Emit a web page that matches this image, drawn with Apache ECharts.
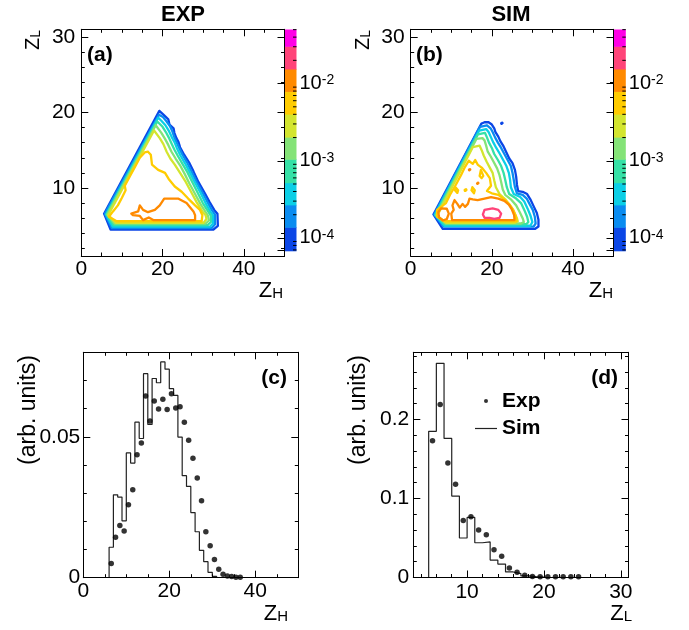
<!DOCTYPE html>
<html><head><meta charset="utf-8">
<script src="https://cdn.jsdelivr.net/npm/echarts@6/dist/echarts.min.js"></script>
<style>html,body{margin:0;padding:0;background:#fff}#c{width:689px;height:630px}</style>
</head><body><div id="c"></div>
<script>
// ================= DATA =================
// (c) Z_H distributions
const zhSimEdges = [6,7,8,9,10,11,12,13,14,15,16,17,18,19,20,21,22,23,24,25,26,27,28,29,30,31];
const zhSim = [0.0108,0.0294,0.0286,0.0202,0.0443,0.0407,0.0552,0.0494,0.0724,0.0544,0.0707,0.0692,0.0766,0.0740,0.0671,0.0647,0.0499,0.0362,0.0324,0.0231,0.0163,0.0097,0.0057,0.0019,0.0005];
const zhExpX = [6.5,7.5,8.5,9.5,10.5,11.5,12.5,13.5,14.5,15.5,16.5,17.5,18.5,19.5,20.5,21.5,22.5,23.5,24.5,25.5,26.5,27.5,28.5,29.5,30.5,31.5,32.5,33.5,34.5,35.5,36.5];
const zhExp = [0.0050,0.0144,0.0185,0.0166,0.0259,0.0312,0.0436,0.0478,0.0645,0.0556,0.0627,0.0599,0.0633,0.0597,0.0653,0.0602,0.0607,0.0552,0.0488,0.0424,0.0354,0.0273,0.0163,0.0113,0.0065,0.0030,0.0012,0.0006,0.0004,0.0002,0.0002];
// (d) Z_L distributions
const zlSimEdges = [5,6,7,8,9,10,11,12,13,14,15,16,17,18,19,20];
const zlSim = [0.185,0.271,0.176,0.103,0.050,0.076,0.044,0.045,0.022,0.017,0.007,0.005,0.002,0.001,0.0005];
const zlExpX = [5.5,6.5,7.5,8.5,9.5,10.5,11.5,12.5,13.5,14.5,15.5,16.5,17.5,18.5,19.5,20.5,21.5,22.5,23.5,24.5];
const zlExp = [0.173,0.219,0.145,0.118,0.072,0.077,0.060,0.054,0.035,0.027,0.012,0.0068,0.003,0.0014,0.0008,0.0008,0.0008,0.0008,0.0008,0.0008];

// colour scale (log z) band edges
const paletteEdges = [6.84e-5,1.38e-4,2.69e-4,5.22e-4,1.05e-3,2.03e-3,4.04e-3,7.94e-3,1.55e-2,3.05e-2,5.02e-2];

// (a) EXP contours, [Z_H, Z_L], outer -> inner level
const expL1 = [[19.2,20.2],[5.6,6.6],[7.2,4.5],[32.5,4.5],[33.6,5.0],[33.5,6.6],[32.7,7.1],[31.5,8.2],[30.3,9.4],[28.8,10.8],[27.6,12.2],[26.5,13.4],[25.3,14.4],[24.3,15.4],[23.9,16.1],[23.4,16.6],[22.9,17.3],[22.7,17.9],[21.7,18.4],[21.4,19.1],[20.4,19.6],[19.2,20.2]];
const expL2 = [[19.1,19.7],[5.8,6.6],[7.5,4.7],[32.1,4.7],[32.9,5.2],[32.9,6.5],[32.2,7.0],[31.0,8.2],[29.8,9.4],[28.4,10.8],[27.1,12.2],[26.0,13.4],[24.9,14.4],[24.0,15.4],[23.4,16.1],[22.9,16.7],[22.4,17.5],[21.8,18.2],[21.0,18.8],[20.1,19.4],[19.1,19.7]];
const expL3 = [[18.9,19.3],[6.1,6.5],[7.7,4.9],[31.7,4.9],[32.4,5.3],[32.4,6.4],[31.7,6.9],[30.5,8.1],[29.3,9.4],[27.9,10.8],[26.6,12.2],[25.5,13.3],[24.4,14.3],[23.5,15.3],[22.9,16.1],[22.2,16.8],[21.5,17.6],[20.7,18.3],[19.7,18.9],[18.9,19.3]];
const expL4 = [[18.7,18.8],[6.2,6.5],[8.0,5.1],[31.1,5.1],[31.9,5.5],[31.9,6.3],[31.2,6.9],[29.9,8.0],[28.7,9.3],[27.3,10.8],[26.1,12.1],[24.9,13.2],[23.8,14.2],[22.9,15.1],[22.2,15.9],[21.5,16.7],[20.8,17.4],[20.0,18.1],[18.7,18.8]];
const expL5 = [[18.3,18.3],[6.4,6.5],[8.2,5.3],[30.6,5.3],[31.4,5.7],[31.2,6.3],[30.6,6.8],[29.3,7.9],[28.0,9.2],[26.6,10.6],[25.4,11.9],[24.3,13.0],[23.2,13.9],[22.2,14.8],[21.4,15.7],[20.6,16.5],[19.7,17.3],[18.3,18.3]];
const expL6 = [[17.9,17.6],[6.6,6.4],[8.5,5.4],[30.1,5.4],[30.8,5.9],[30.6,6.4],[29.8,6.9],[28.4,8.1],[27.1,9.4],[25.7,10.8],[24.3,12.0],[23.0,13.1],[21.9,13.9],[21.0,14.8],[20.2,15.8],[19.3,16.6],[17.9,17.6]];
const expL7 = [[16.4,14.8],[17.1,14.4],[17.4,13.1],[18.9,12.4],[20.6,12.0],[21.5,11.2],[23.0,10.2],[24.7,9.5],[26.3,8.6],[28.0,7.7],[29.2,7.1],[29.8,6.4],[29.6,5.6],[8.7,5.6],[6.8,6.2],[7.8,6.9],[9.0,7.7],[10.0,8.7],[10.9,9.7],[10.7,10.3],[11.9,11.5],[13.2,12.8],[14.4,14.0],[15.6,14.7],[16.4,14.8]];
const expL8 = [[12.3,6.6],[14.0,6.9],[14.4,7.7],[15.2,7.1],[16.4,6.8],[18.1,7.1],[19.3,7.7],[20.4,8.6],[23.8,8.6],[25.9,8.0],[27.6,6.9],[28.0,6.4],[28.0,5.75],[17.7,5.75],[16.6,6.1],[15.2,5.75],[14.4,6.3],[12.7,6.4],[12.3,6.6]];

// (b) SIM contours
const simL1 = [[17.4,18.5],[18.2,18.7],[19.2,18.7],[20.0,18.4],[20.6,17.9],[20.9,17.4],[21.6,16.8],[22.1,16.2],[22.9,15.5],[23.6,14.7],[24.3,13.9],[25.1,13.3],[25.7,12.4],[26.0,11.5],[26.2,10.4],[26.5,9.6],[27.6,9.5],[28.7,9.2],[29.5,8.5],[30.3,7.6],[31.1,6.7],[31.5,5.8],[31.5,4.9],[30.7,4.6],[7.9,4.6],[5.6,6.5],[17.4,18.5]];
const simL1b = [[22.4,18.55],[22.55,18.6]];
const simL2 = [[17.1,18.1],[18.8,18.3],[19.7,17.9],[20.2,17.4],[20.8,16.7],[21.5,16.0],[22.3,15.3],[23.1,14.5],[23.9,13.7],[24.7,12.9],[25.1,12.0],[25.4,11.1],[25.7,10.1],[26.2,9.3],[27.6,9.1],[28.6,8.6],[29.3,7.9],[30.1,7.1],[30.6,6.2],[30.8,5.3],[30.3,4.9],[8.1,4.9],[5.8,6.5],[17.1,18.1]];
const simL3 = [[16.9,17.6],[18.6,17.8],[19.2,17.4],[19.8,16.7],[20.4,16.0],[21.1,15.3],[22.0,14.5],[22.8,13.7],[23.6,12.9],[24.2,12.0],[24.5,11.1],[24.7,10.1],[25.4,9.2],[27.0,8.8],[28.0,8.2],[28.8,7.3],[29.5,6.4],[30.0,5.5],[29.5,5.0],[8.3,5.0],[6.0,6.5],[16.9,17.6]];
const simL4 = [[16.6,17.1],[18.3,17.3],[18.8,16.7],[19.3,16.0],[20.0,15.3],[20.6,14.5],[21.5,13.7],[22.3,12.9],[22.9,12.0],[23.3,11.1],[23.7,10.1],[24.3,9.2],[26.0,8.6],[27.2,8.0],[28.0,7.1],[28.7,6.2],[29.0,5.5],[28.5,5.2],[8.4,5.2],[6.1,6.4],[16.6,17.1]];
const simL5 = [[16.2,16.5],[17.7,16.6],[18.2,16.3],[18.6,15.6],[19.0,14.8],[19.7,14.2],[20.5,13.4],[21.3,12.6],[21.9,11.7],[22.3,10.8],[22.7,9.8],[23.3,9.1],[24.7,8.5],[26.0,7.7],[26.9,6.8],[27.6,6.0],[27.9,5.5],[27.2,5.3],[8.6,5.3],[6.3,6.4],[16.2,16.5]];
const simL6 = [[15.3,15.4],[17.0,15.6],[17.5,15.0],[18.0,14.3],[18.7,13.5],[19.5,12.7],[20.2,12.0],[20.6,11.0],[21.0,10.1],[21.9,9.2],[23.3,8.5],[24.6,7.6],[25.6,6.7],[26.2,6.0],[26.4,5.6],[25.7,5.4],[8.8,5.4],[6.5,6.3],[15.3,15.4]];
const simL7 = [[6.5,6.2],[6.5,7.1],[8.7,8.0],[9.7,9.1],[11.1,10.4],[12.4,11.7],[13.4,12.8],[14.3,13.6],[14.7,13.8],[15.3,13.2],[15.9,13.7],[16.5,13.1],[17.5,12.7],[18.6,12.0],[19.5,11.3],[19.8,10.3],[18.8,9.6],[20.0,9.3],[21.6,9.1],[23.1,8.5],[24.4,7.8],[25.3,7.1],[25.9,6.3],[26.1,5.6],[8.4,5.6],[6.5,6.2]];
const simL7r1 = [[10.9,9.7],[11.1,10.05],[11.5,10.05],[11.7,9.7],[11.5,9.35],[11.1,9.35],[10.9,9.7]];
const simL7r2 = [[15.0,9.7],[15.2,10.1],[15.6,10.1],[15.8,9.7],[15.6,9.3],[15.2,9.3],[15.0,9.7]];
const simL7r3 = [[17.0,11.6],[17.3,12.4],[17.6,12.0],[17.9,11.6],[17.5,11.3],[17.0,11.6]];
const simL7d = [[13.45,9.7],[13.6,9.75]];
const simL8 = [[10.2,5.75],[25.6,5.75],[25.5,6.4],[24.9,7.2],[24.2,7.8],[23.1,8.3],[21.6,8.6],[19.8,8.8],[18.2,8.6],[16.5,8.4],[15.3,8.5],[14.5,8.6],[14.1,7.9],[13.4,7.5],[12.8,7.9],[12.1,7.4],[11.5,7.9],[10.8,8.4],[10.3,7.7],[10.6,7.1],[10.0,6.6],[10.2,5.75]];
const simL8b = [[7.5,7.3],[8.9,7.25],[9.4,6.6],[8.9,5.9],[7.9,5.7],[7.0,6.1],[6.8,6.8],[7.5,7.3]];
const simL8d1 = [[14.45,12.4],[14.6,12.45]];
const simL8d2 = [[16.45,10.6],[16.6,10.65]];
const simL9 = [[18.2,7.1],[20.2,7.3],[21.6,7.1],[22.3,6.6],[21.9,6.05],[20.6,5.9],[19.4,6.05],[18.2,6.05],[17.8,6.5],[18.2,7.1]];

// ================= STYLE =================
const FONT = '"Liberation Sans", Arial, Helvetica, sans-serif';
const levelColors = ['#0b46e6','#0a8cf0','#0ccfe6','#36e1a6','#84e377','#d3e52f','#ffcc00','#ff8a00','#ff4479','#ff00e6'];

function stepData(edges, vals) {
  const d = [[edges[0], 0]];
  vals.forEach((v, i) => d.push([edges[i], v]));
  d.push([edges[edges.length - 1], 0]);
  return d;
}
function pairs(xs, ys) { return xs.map((x, i) => [x, ys[i]]); }
function every(step) {
  return v => (Math.abs(v / step - Math.round(v / step)) < 1e-6 ? String(+v.toFixed(6)) : '');
}
function vAxis(o) {
  const a = {
    type: 'value', gridIndex: o.grid, position: o.pos, min: o.min, max: o.max, z: 10,
    axisLine: {show: true, onZero: false, lineStyle: {color: '#000', width: 1}},
    axisTick: {show: true, inside: true, length: 7, lineStyle: {color: '#000', width: 1}},
    minorTick: {show: true, splitNumber: o.minor, length: 3.5, lineStyle: {color: '#000', width: 1}},
    splitLine: {show: false}, minorSplitLine: {show: false},
    axisLabel: o.label ? {show: true, margin: o.margin, color: '#000', fontSize: 21, fontFamily: FONT,
      hideOverlap: false, formatter: every(o.labelStep)} : {show: false}
  };
  if (o.interval !== undefined) a.interval = o.interval;
  if (o.split !== undefined) a.splitNumber = o.split;
  return a;
}
function palAxis(grid) {
  return {
    type: 'log', logBase: 10, gridIndex: grid, position: 'right', z: 10,
    min: paletteEdges[0], max: paletteEdges[paletteEdges.length - 1],
    axisLine: {show: true, lineStyle: {color: '#000', width: 1}},
    axisTick: {show: true, inside: true, length: 7, lineStyle: {color: '#000', width: 1}},
    minorTick: {show: false}, splitLine: {show: false},
    axisLabel: {show: true, margin: 3, hideOverlap: false,
      formatter: v => { const l = Math.log10(v); return Math.abs(l - Math.round(l)) < 0.01 ? '{b|10}{p|' + Math.round(l) + '}' : ''; },
      rich: {
        b: {fontSize: 20, fontFamily: FONT, color: '#000', lineHeight: 20, verticalAlign: 'middle'},
        p: {fontSize: 14, fontFamily: FONT, color: '#000', lineHeight: 14, padding: [0, 0, 12, 0], verticalAlign: 'top'}
      }}
  };
}
function hiddenX(grid) { return {type: 'value', gridIndex: grid, min: 0, max: 1, show: false}; }

function paletteBands(xi, yi) {
  return {
    type: 'custom', xAxisIndex: xi, yAxisIndex: yi, silent: true, z: 1,
    data: paletteEdges.slice(0, -1).map((lo, i) => [0, lo, paletteEdges[i + 1], i]),
    encode: {x: 0, y: [1, 2]},
    renderItem: (params, api) => {
      const p0 = api.coord([0, api.value(1)]), p1 = api.coord([1, api.value(2)]);
      return {type: 'rect', shape: {x: p0[0], y: p1[1], width: p1[0] - p0[0], height: p0[1] - p1[1] + 0.6},
        style: {fill: levelColors[api.value(3)]}};
    }
  };
}
const paletteMinor = [];
for (let e = -5; e <= -1; e++) for (let k = 2; k <= 9; k++) {
  const v = k * Math.pow(10, e);
  if (v > paletteEdges[0] && v < paletteEdges[paletteEdges.length - 1]) paletteMinor.push(v);
}
function paletteTicks(xi, yi) {
  return {
    type: 'custom', xAxisIndex: xi, yAxisIndex: yi, silent: true, z: 4,
    data: paletteMinor.map(v => [1, v]), encode: {x: 0, y: 1},
    renderItem: (params, api) => {
      const p = api.coord([1, api.value(1)]);
      return {type: 'line', shape: {x1: p[0], y1: p[1], x2: p[0] - 3.5, y2: p[1]}, style: {stroke: '#000', lineWidth: 1}};
    }
  };
}
function contour(data, lvl, xi, yi, w) {
  return {type: 'line', xAxisIndex: xi, yAxisIndex: yi, data: data, symbol: 'none', silent: true,
    lineStyle: {color: levelColors[lvl], width: w || 2.3, cap: 'round', join: 'round'}, z: 3};
}

const expContours = [expL1, expL2, expL3, expL4, expL5, expL6, expL7, expL8];
const simContours = [[simL1, 0], [simL1b, 0, 3], [simL2, 1], [simL3, 2], [simL4, 3], [simL5, 4], [simL6, 5], [simL7, 6],
  [simL7r1, 6], [simL7r2, 6], [simL7r3, 6], [simL7d, 6, 3.5], [simL8, 7], [simL8b, 7], [simL8d1, 7, 3], [simL8d2, 7, 3], [simL9, 8]];

const series = [];
expContours.forEach((c, i) => series.push(contour(c, i, 0, 0)));
simContours.forEach(c => series.push(contour(c[0], c[1], 3, 3, c[2])));
series.push(paletteBands(2, 2), paletteTicks(2, 2), paletteBands(5, 5), paletteTicks(5, 5));
series.push({type: 'line', name: 'Sim', xAxisIndex: 6, yAxisIndex: 6, data: stepData(zhSimEdges, zhSim), step: 'end',
  symbol: 'none', lineStyle: {color: '#222', width: 1.2}, itemStyle: {color: '#222'}, z: 3});
series.push({type: 'scatter', name: 'Exp', xAxisIndex: 6, yAxisIndex: 6, data: pairs(zhExpX, zhExp), symbolSize: 5.5,
  itemStyle: {color: '#000'}, z: 4});
series.push({type: 'line', name: 'Sim', xAxisIndex: 8, yAxisIndex: 8, data: stepData(zlSimEdges, zlSim), step: 'end',
  symbol: 'none', lineStyle: {color: '#222', width: 1.2}, itemStyle: {color: '#222'}, z: 3});
series.push({type: 'scatter', name: 'Exp', xAxisIndex: 8, yAxisIndex: 8, data: pairs(zlExpX, zlExp), symbolSize: 5.5,
  itemStyle: {color: '#000'}, z: 4});

function richSub(fz, fs) {
  return {
    z: {fontSize: fz, fontFamily: FONT, color: '#000', lineHeight: fz, verticalAlign: 'top'},
    s: {fontSize: fs, fontFamily: FONT, color: '#000', lineHeight: fs, padding: [Math.round(fz / 2), 0, 0, 0], verticalAlign: 'bottom'}
  };
}
function txt(text, x, y, align, valign, extra, rot) {
  return {type: 'text', x: x, y: y, rotation: rot || 0, silent: true, z: 20,
    style: Object.assign({text: text, fill: '#000', fontFamily: FONT, fontSize: 21,
      align: align, textAlign: align, verticalAlign: valign, textVerticalAlign: valign}, extra || {})};
}
const B = {fontWeight: 'bold'};
const graphics = [
  txt('EXP', 183, 15, 'center', 'middle', {fontSize: 22, fontWeight: 'bold'}),
  txt('SIM', 511, 15, 'center', 'middle', {fontSize: 22, fontWeight: 'bold'}),
  txt('(a)', 87, 55, 'left', 'middle', B),
  txt('(b)', 416, 55, 'left', 'middle', B),
  txt('(c)', 287, 378, 'right', 'middle', B),
  txt('(d)', 618, 378, 'right', 'middle', B),
  txt('{z|Z}{s|H}', 283, 279.5, 'right', 'top', {rich: richSub(22, 15)}),
  txt('{z|Z}{s|H}', 613, 279.5, 'right', 'top', {rich: richSub(22, 15)}),
  txt('{z|Z}{s|H}', 288, 602.5, 'right', 'top', {rich: richSub(22, 15)}),
  txt('{z|Z}{s|L}', 632, 602.5, 'right', 'top', {rich: richSub(22, 15)}),
  txt('{z|Z}{s|L}', 23.5, 30, 'right', 'top', {rich: richSub(20, 14)}, Math.PI / 2),
  txt('{z|Z}{s|L}', 353, 30, 'right', 'top', {rich: richSub(20, 14)}, Math.PI / 2),
  txt('(arb. units)', 29, 355, 'right', 'middle', {fontSize: 23}, Math.PI / 2),
  txt('(arb. units)', 359, 355, 'right', 'middle', {fontSize: 23}, Math.PI / 2)
];

const option = {
  animation: false,
  backgroundColor: '#fff',
  textStyle: {fontFamily: FONT},
  grid: [
    {left: 81.3, top: 29.3, width: 203.2, height: 226.7, containLabel: false, outerBoundsMode: 'none'},
    {left: 284.5, top: 29.5, width: 12, height: 221.2, containLabel: false, outerBoundsMode: 'none'},
    {left: 410.7, top: 29.3, width: 202.8, height: 226.7, containLabel: false, outerBoundsMode: 'none'},
    {left: 613.5, top: 29.5, width: 12.3, height: 221.2, containLabel: false, outerBoundsMode: 'none'},
    {left: 83.3, top: 352.3, width: 215, height: 225.4, containLabel: false, outerBoundsMode: 'none'},
    {left: 413.3, top: 352.3, width: 215.2, height: 225.2, containLabel: false, outerBoundsMode: 'none'}
  ],
  xAxis: [
    vAxis({grid: 0, pos: 'bottom', min: 0, max: 50, interval: 20, minor: 4, label: true, margin: 3, labelStep: 20}),
    vAxis({grid: 0, pos: 'top', min: 0, max: 50, interval: 20, minor: 4}),
    hiddenX(1),
    vAxis({grid: 2, pos: 'bottom', min: 0, max: 50, interval: 20, minor: 4, label: true, margin: 3, labelStep: 20}),
    vAxis({grid: 2, pos: 'top', min: 0, max: 50, interval: 20, minor: 4}),
    hiddenX(3),
    vAxis({grid: 4, pos: 'bottom', min: 0, max: 50, interval: 20, minor: 4, label: true, margin: 3, labelStep: 20}),
    vAxis({grid: 4, pos: 'top', min: 0, max: 50, interval: 20, minor: 4}),
    vAxis({grid: 5, pos: 'bottom', min: 3, max: 31, split: 3, minor: 5, label: true, margin: 4, labelStep: 10}),
    vAxis({grid: 5, pos: 'top', min: 3, max: 31, split: 3, minor: 5})
  ],
  yAxis: [
    vAxis({grid: 0, pos: 'left', min: 1, max: 31, split: 3, minor: 5, label: true, margin: 6, labelStep: 10}),
    vAxis({grid: 0, pos: 'right', min: 1, max: 31, split: 3, minor: 5}),
    palAxis(1),
    vAxis({grid: 2, pos: 'left', min: 1, max: 31, split: 3, minor: 5, label: true, margin: 6, labelStep: 10}),
    vAxis({grid: 2, pos: 'right', min: 1, max: 31, split: 3, minor: 5}),
    palAxis(3),
    vAxis({grid: 4, pos: 'left', min: 0, max: 0.08, interval: 0.05, minor: 5, label: true, margin: 3, labelStep: 0.05}),
    vAxis({grid: 4, pos: 'right', min: 0, max: 0.08, interval: 0.05, minor: 5}),
    vAxis({grid: 5, pos: 'left', min: 0, max: 0.285, interval: 0.1, minor: 5, label: true, margin: 4, labelStep: 0.1}),
    vAxis({grid: 5, pos: 'right', min: 0, max: 0.285, interval: 0.1, minor: 5})
  ],
  legend: {
    orient: 'vertical', left: 475, top: 390.5, padding: 0, itemWidth: 22, itemHeight: 4, itemGap: 6.5, selectedMode: false,
    textStyle: {fontFamily: FONT, fontSize: 21, fontWeight: 'bold', color: '#000'},
    data: [
      {name: 'Exp', icon: 'circle', itemStyle: {color: '#000'}},
      {name: 'Sim', icon: 'path://M0,0L22,0L22,1.2L0,1.2Z', itemStyle: {color: '#222'}}
    ]
  },
  graphic: graphics,
  series: series
};

const chart = echarts.init(document.getElementById('c'), null, {renderer: 'canvas'});
chart.setOption(option);
</script>
</body></html>
